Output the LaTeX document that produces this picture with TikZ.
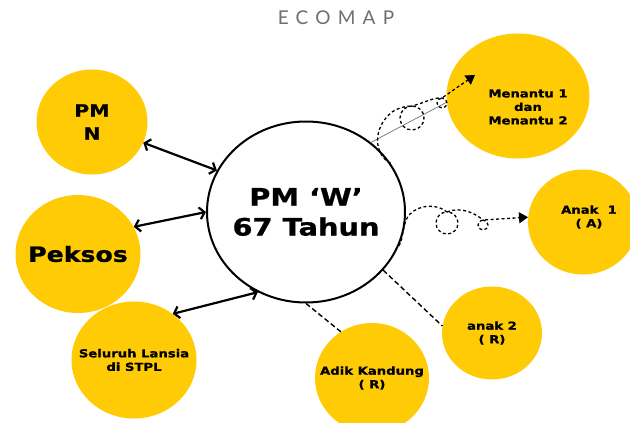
\documentclass[tikz,border=0pt]{standalone}
\usepackage{fontspec}
\usetikzlibrary{shapes.geometric, arrows.meta}
\setmainfont{DejaVu Sans}
\newfontfamily\heavy{DejaVu Sans}[FakeStretch=1.2, FakeBold=1]
\newfontfamily\titlefont{Lato}[LetterSpace=38]
\definecolor{ecoyellow}{HTML}{FFCB05}
\definecolor{titlegray}{HTML}{6E6E6E}
\tikzstyle{client} = [ellipse, draw = black, line width = 2pt, fill = white, minimum width = 198pt, minimum height = 181pt, inner sep = -15pt, align = center, font = \heavy\bfseries\fontsize{24}{30}\selectfont]
\tikzstyle{system} = [ellipse, fill = ecoyellow, inner sep = -15pt, align = center, font = \heavy\bfseries\fontsize{11}{13.5}\selectfont]
\tikzstyle{tie} = [{Straight Barb[length = 5pt, width = 12pt]}-{Straight Barb[length = 5pt, width = 12pt]}, line width = 2.2pt]
\tikzstyle{weak} = [dash pattern = on 5pt off 3pt, line width = 1.4pt]
\tikzstyle{flow} = [-{Triangle[length = 9pt, width = 11pt]}, dash pattern = on 3pt off 2.5pt, line width = 1.3pt]

\begin{document}
\begin{tikzpicture}[x = 1pt, y = -1pt]
\useasboundingbox (0,0) rectangle (630,423);
\node (title) [text = titlegray, font = \titlefont\fontsize{19}{19}\selectfont] at (336,18) {ECOMAP};

\node (pmw) [client] at (306,212) {PM ‘W’\\67 Tahun};
\node (pmn) [system, minimum width = 111pt, minimum height = 105pt, font = \heavy\bfseries\fontsize{17}{23}\selectfont] at (92,122) {PM\\N};
\node (peksos) [system, minimum width = 125pt, minimum height = 118pt, font = \heavy\bfseries\fontsize{21}{25}\selectfont] at (78,254) {Peksos};
\node (lansia) [system, minimum width = 125pt, minimum height = 117pt] at (134,360) {Seluruh Lansia\\di STPL};
\node (adik) [system, minimum width = 114pt, minimum height = 110pt] at (372,378) {Adik Kandung\\( R)};
\node (anak2) [system, minimum width = 100pt, minimum height = 93pt] at (492,333) {anak 2\\( R)};
\node (anak1) [system, minimum width = 110pt, minimum height = 105pt, label = {[align = center, xshift = 6pt, yshift = 5pt, font = \heavy\bfseries\fontsize{11}{13.5}\selectfont]center:{Anak~~1\\( A)}}] at (583,222) {};
\node (menantu) [system, minimum width = 143pt, minimum height = 125pt, label = {[align = center, xshift = 10pt, yshift = -11pt, font = \heavy\bfseries\fontsize{11}{13.5}\selectfont]center:{Menantu 1\\dan\\Menantu 2}}] at (518,96) {};
\coordinate (mtip) at (475,75);

\draw [tie] (pmn.338) -- (pmw.155);
\draw [tie] (peksos.26) -- (pmw.180);
\draw [tie] (lansia.50) -- (pmw.239);

\draw [weak] (pmw.270) -- (adik.124);
\draw [weak] (pmw.323) -- (anak2.172);

\draw [gray, line width = 0.8pt] (pmw.47) -- (menantu.185);
\draw [flow] (pmw.30) .. controls (374,155) and (372,128) .. (392,112) .. controls (398,108) and (405,106) .. (412,106) arc [start angle = 90, delta angle = -360, radius = 12pt] .. controls (424,103) and (434,97) .. (442,98) arc [start angle = 90, delta angle = -360, radius = 5pt] -- (mtip);
\draw [flow] (pmw.340) .. controls (404,238) and (402,222) .. (410,214) .. controls (420,204) and (438,204) .. (447,212) arc [start angle = 90, delta angle = -360, radius = 11pt] .. controls (462,206) and (476,214) .. (483,220) arc [start angle = 90, delta angle = -360, radius = 5pt] -- (anak1.175);
\end{tikzpicture}
\end{document}
